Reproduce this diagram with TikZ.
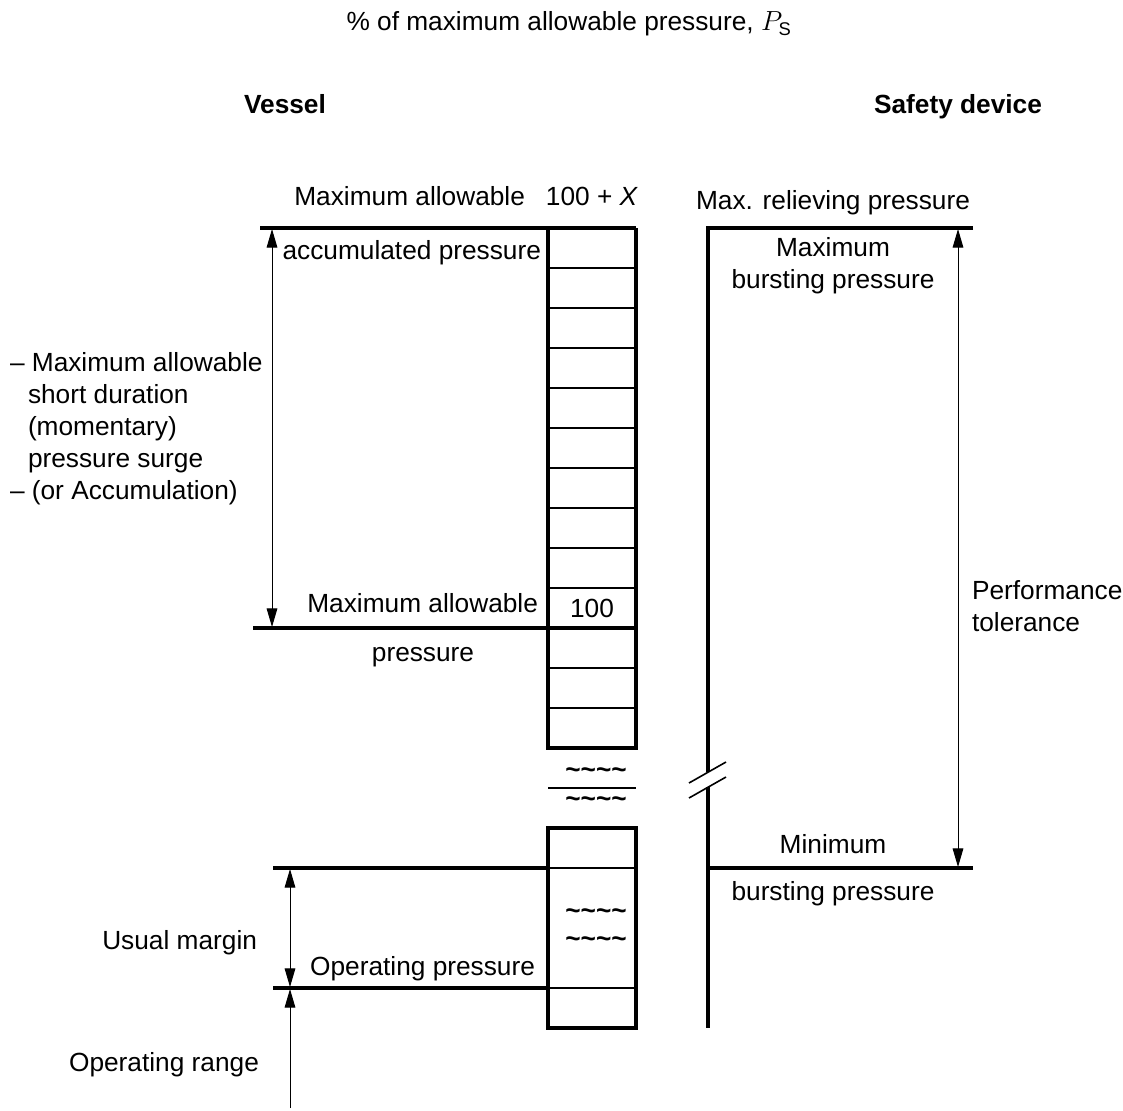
\documentclass[tikz,border=0pt]{standalone}
\usepackage{amsmath}
\usepackage{fontspec}
\setmainfont{Liberation Sans}
\usetikzlibrary{arrows.meta}
\begin{document}
\begin{tikzpicture}[x=0.75pt,y=-0.75pt,
  every node/.style={font=\fontsize{19.7}{24}\selectfont, inner sep=0pt, outer sep=0pt},
  heavy/.style={line width=2.4pt},
  rung/.style={line width=1.2pt},
  midrung/.style={line width=2pt},
  dim/.style={line width=0.75pt, {Triangle[length=14pt,width=8pt]}-{Triangle[length=14pt,width=8pt]}},
  dimend/.style={line width=0.75pt, -{Triangle[length=14pt,width=8pt]}},
  lb/.style={anchor=base},
  lbw/.style={anchor=base west},
  lbe/.style={anchor=base east},
  wig/.style={anchor=base, font=\fontsize{19.7}{24}\selectfont\bfseries}
]
\useasboundingbox (0,0) rectangle (1123,1110);

% headings
\node[lb] (title) at (569,31) {\% of maximum allowable pressure, $P_{\text{S}}$};
\node[lb,font=\fontsize{19.7}{24}\selectfont\bfseries] (vessel) at (285,113) {Vessel};
\node[lb,font=\fontsize{19.7}{24}\selectfont\bfseries] (safety) at (958,113) {Safety device};

% key coordinates
\coordinate (topL) at (260,228);
\coordinate (boxTL) at (548,228);
\coordinate (boxTR) at (636,228);
\coordinate (boxBL) at (548,748);
\coordinate (boxBR) at (636,748);
\coordinate (mapL) at (253,628);
\coordinate (mapR) at (636,628);
\coordinate (lowTL) at (548,828);
\coordinate (lowBR) at (636,1028);
\coordinate (umL) at (273,868);
\coordinate (umM) at (548,868);
\coordinate (umR) at (636,868);
\coordinate (opL) at (273,988);
\coordinate (opM) at (548,988);
\coordinate (opR) at (636,988);
\coordinate (sdTop) at (708,228);
\coordinate (sdTopR) at (973,228);
\coordinate (sdBreakA) at (708,772);
\coordinate (sdBreakB) at (708,787);
\coordinate (sdBot) at (708,1028);
\coordinate (sdMin) at (708,868);
\coordinate (sdMinR) at (973,868);

% upper scale
\draw[heavy] (topL) -- (boxTR);
\draw[heavy] (boxTL) -- (boxBL) -- (boxBR) -- (boxTR);
\foreach \y in {268,308,348,388,468,508,548,588,668,708}
  \draw[rung] (548,\y) -- (636,\y);
\draw[midrung] (548,428) -- (636,428);
\draw[heavy] (mapL) -- (mapR);

% break
\draw[rung] (548,788) -- (636,788);
\node[wig] (w1) at (596,778) {\textasciitilde\textasciitilde\textasciitilde\textasciitilde};
\node[wig] (w2) at (596,807) {\textasciitilde\textasciitilde\textasciitilde\textasciitilde};

% lower scale
\draw[heavy] (lowTL) rectangle (lowBR);
\draw[heavy] (umL) -- (umM);
\draw[rung] (umM) -- (umR);
\draw[heavy] (opL) -- (opM);
\draw[rung] (opM) -- (opR);
\node[wig] (w3) at (596,919) {\textasciitilde\textasciitilde\textasciitilde\textasciitilde};
\node[wig] (w4) at (596,947) {\textasciitilde\textasciitilde\textasciitilde\textasciitilde};

% safety device line
\draw[heavy] (sdTopR) -- (sdTop) -- (sdBreakA);
\draw[heavy] (sdBreakB) -- (sdBot);
\draw[heavy] (sdMin) -- (sdMinR);
\draw[rung] (689,783) -- (726,762);
\draw[rung] (689,798) -- (726,777);

% dimension arrows
\coordinate (a1t) at (272,229);
\coordinate (a1b) at (272,627);
\draw[dim] (a1t) -- (a1b);
\coordinate (a2t) at (290,869);
\coordinate (a2b) at (290,987);
\draw[dim] (a2t) -- (a2b);
\coordinate (a3s) at (290,1108);
\coordinate (a3e) at (290,989);
\draw[dimend] (a3s) -- (a3e);
\coordinate (a4t) at (958,229);
\coordinate (a4b) at (958,867);
\draw[dim] (a4t) -- (a4b);

% vessel labels
\node[lbe] (maxacc1) at (525,205) {Maximum allowable};
\node[lb] (hundx) at (592,205) {100 + \textit{X}};
\node[lbe] (maxacc2) at (541,259) {accumulated pressure};
\node[lbw] (s1) at (10,371) {– Maximum allowable};
\node[lbw] (s2) at (28,403) {short duration};
\node[lbw] (s3) at (28,435) {(momentary)};
\node[lbw] (s4) at (28,467) {pressure surge};
\node[lbw] (s5) at (10,499) {– (or Accumulation)};
\node[lbe] (map1) at (538,612) {Maximum allowable};
\node[lb] (hund) at (592,617) {100};
\node[lb] (map2) at (423,661) {pressure};
\node[lbe] (usual) at (257,949) {Usual margin};
\node[lbe] (oppr) at (535,975) {Operating pressure};
\node[lb] (oprange) at (164,1071) {Operating range};

% safety device labels
\node[lb] (maxrel) at (833,209) {Max. relieving pressure};
\node[lb] (maxb1) at (833,256) {Maximum};
\node[lb] (maxb2) at (833,288) {bursting pressure};
\node[lbw] (perf1) at (972,599) {Performance};
\node[lbw] (perf2) at (972,631) {tolerance};
\node[lb] (minb1) at (833,853) {Minimum};
\node[lb] (minb2) at (833,900) {bursting pressure};
\end{tikzpicture}
\end{document}
